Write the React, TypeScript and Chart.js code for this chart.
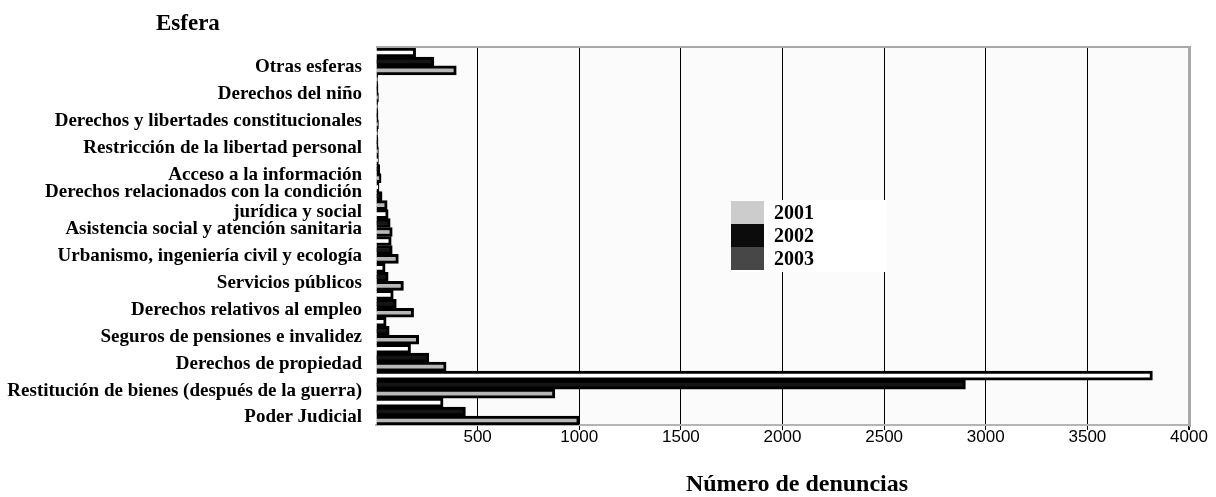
import React, { useEffect, useRef } from 'react';
import { Chart, registerables } from 'chart.js';

Chart.register(...registerables);

// Categories listed top to bottom as they appear in the chart
const categories: (string | string[])[] = [
  'Otras esferas',
  'Derechos del niño',
  'Derechos y libertades constitucionales',
  'Restricción de la libertad personal',
  'Acceso a la información',
  ['Derechos relacionados con la condición', 'jurídica y social'],
  'Asistencia social y atención sanitaria',
  'Urbanismo, ingeniería civil y ecología',
  'Servicios públicos',
  'Derechos relativos al empleo',
  'Seguros de pensiones e invalidez',
  'Derechos de propiedad',
  'Restitución de bienes (después de la guerra)',
  'Poder Judicial',
];

const years = ['2001', '2002', '2003'];

const values2001 = [395, 12, 12, 12, 25, 55, 80, 110, 135, 185, 210, 345, 880, 1000];
const values2002 = [285, 10, 10, 10, 18, 30, 70, 80, 60, 100, 65, 260, 2900, 440];
const values2003 = [195, 8, 8, 8, 12, 15, 60, 75, 45, 85, 50, 170, 3820, 330];

const xMin = 0;
const xMax = 4000;
const xStep = 500;

const barColors: Record<string, string> = { '2001': '#b8b8b8', '2002': '#141414', '2003': '#ffffff' };
const legendColors: Record<string, string> = { '2001': '#cccccc', '2002': '#0c0c0c', '2003': '#474747' };

const yTitle = 'Esfera';
const xTitle = 'Número de denuncias';

const decorPlugin = {
  id: 'decor',
  beforeDraw(chart: any) {
    const { ctx, chartArea } = chart;
    ctx.save();
    ctx.fillStyle = '#fbfbfb';
    ctx.fillRect(chartArea.left, chartArea.top, chartArea.right - chartArea.left, chartArea.bottom - chartArea.top);
    ctx.restore();
  },
  afterDraw(chart: any) {
    const { ctx, chartArea } = chart;
    ctx.save();
    // top and right walls
    ctx.strokeStyle = '#a8a8a8';
    ctx.lineWidth = 2;
    ctx.beginPath();
    ctx.moveTo(chartArea.left, chartArea.top - 1);
    ctx.lineTo(chartArea.right + 1, chartArea.top - 1);
    ctx.lineTo(chartArea.right + 1, chartArea.bottom + 2);
    ctx.stroke();

    // titles
    ctx.fillStyle = '#000';
    ctx.textBaseline = 'alphabetic';
    ctx.textAlign = 'left';
    ctx.font = 'bold 23px "Liberation Serif"';
    ctx.fillText(yTitle, 156, 30);
    ctx.textAlign = 'center';
    ctx.font = 'bold 24px "Liberation Serif"';
    ctx.fillText(xTitle, 797, 491);

    // legend
    const lx = 731, ly = 200, sw = 33, rh = 23;
    ctx.fillStyle = '#ffffff';
    ctx.fillRect(lx, ly, 156, rh * years.length + 3);
    ctx.font = 'bold 20px "Liberation Serif"';
    ctx.textAlign = 'left';
    ctx.textBaseline = 'middle';
    years.forEach((y, i) => {
      ctx.fillStyle = legendColors[y];
      ctx.fillRect(lx, ly + 1 + i * rh, sw, rh);
      ctx.fillStyle = '#000';
      ctx.fillText(y, lx + 43, ly + 1 + i * rh + rh / 2 + 1);
    });
    ctx.restore();
  },
};

export default function App() {
  const ref = useRef<HTMLCanvasElement>(null);
  useEffect(() => {
    if (!ref.current) return;
    const seriesByYear: Record<string, number[]> = { '2001': values2001, '2002': values2002, '2003': values2003 };
    const order = ['2003', '2002', '2001'];
    const chart = new Chart(ref.current, {
      type: 'bar',
      data: {
        labels: categories as any,
        datasets: order.map((y) => ({
          label: y,
          data: seriesByYear[y],
          backgroundColor: barColors[y],
          borderColor: '#000',
          borderWidth: 3,
          categoryPercentage: 1,
          barPercentage: 1,
        })),
      },
      options: {
        indexAxis: 'y',
        animation: false,
        responsive: false,
        layout: { padding: { top: 48, right: 27, left: 0, bottom: 0 } },
        plugins: {
          legend: { display: false },
          tooltip: { enabled: false },
          title: { display: false },
        },
        scales: {
          x: {
            min: xMin,
            max: xMax,
            ticks: {
              stepSize: xStep,
              autoSkip: false,
              maxRotation: 0,
              color: '#000',
              padding: -3,
              font: { family: 'Liberation Sans', size: 17 },
              callback: (v: any) => (v === 0 ? '' : String(v)),
            },
            grid: {
              color: (c: any) => (c.tick && c.tick.value === 0 ? 'rgba(0,0,0,0)' : c.tick && c.tick.value === xMax ? '#a8a8a8' : '#000'),
              lineWidth: (c: any) => (c.tick && c.tick.value === xMax ? 2 : 1),
              drawTicks: true,
              tickLength: 5,
              tickColor: (c: any) => (c.tick && c.tick.value === 0 ? 'rgba(0,0,0,0)' : '#000'),
            },
            border: { display: true, color: '#b4b4b4', width: 2 },
            afterFit: (s: any) => {
              s.height = 72;
            },
          },
          y: {
            ticks: {
              autoSkip: false,
              color: '#000',
              padding: 14,
              labelOffset: 6,
              font: { family: 'Liberation Serif', size: 19, weight: 'bold', lineHeight: 1.05 },
            },
            grid: { display: false, drawTicks: false },
            border: { display: false },
            afterFit: (s: any) => {
              s.width = 376;
            },
          },
        },
      },
      plugins: [decorPlugin],
    });
    return () => chart.destroy();
  }, []);
  return (
    <div style={{ position: 'absolute', left: 0, top: 0, width: 1216, height: 497 }}>
      <canvas ref={ref} width={1216} height={497} style={{ display: 'block' }} />
    </div>
  );
}
